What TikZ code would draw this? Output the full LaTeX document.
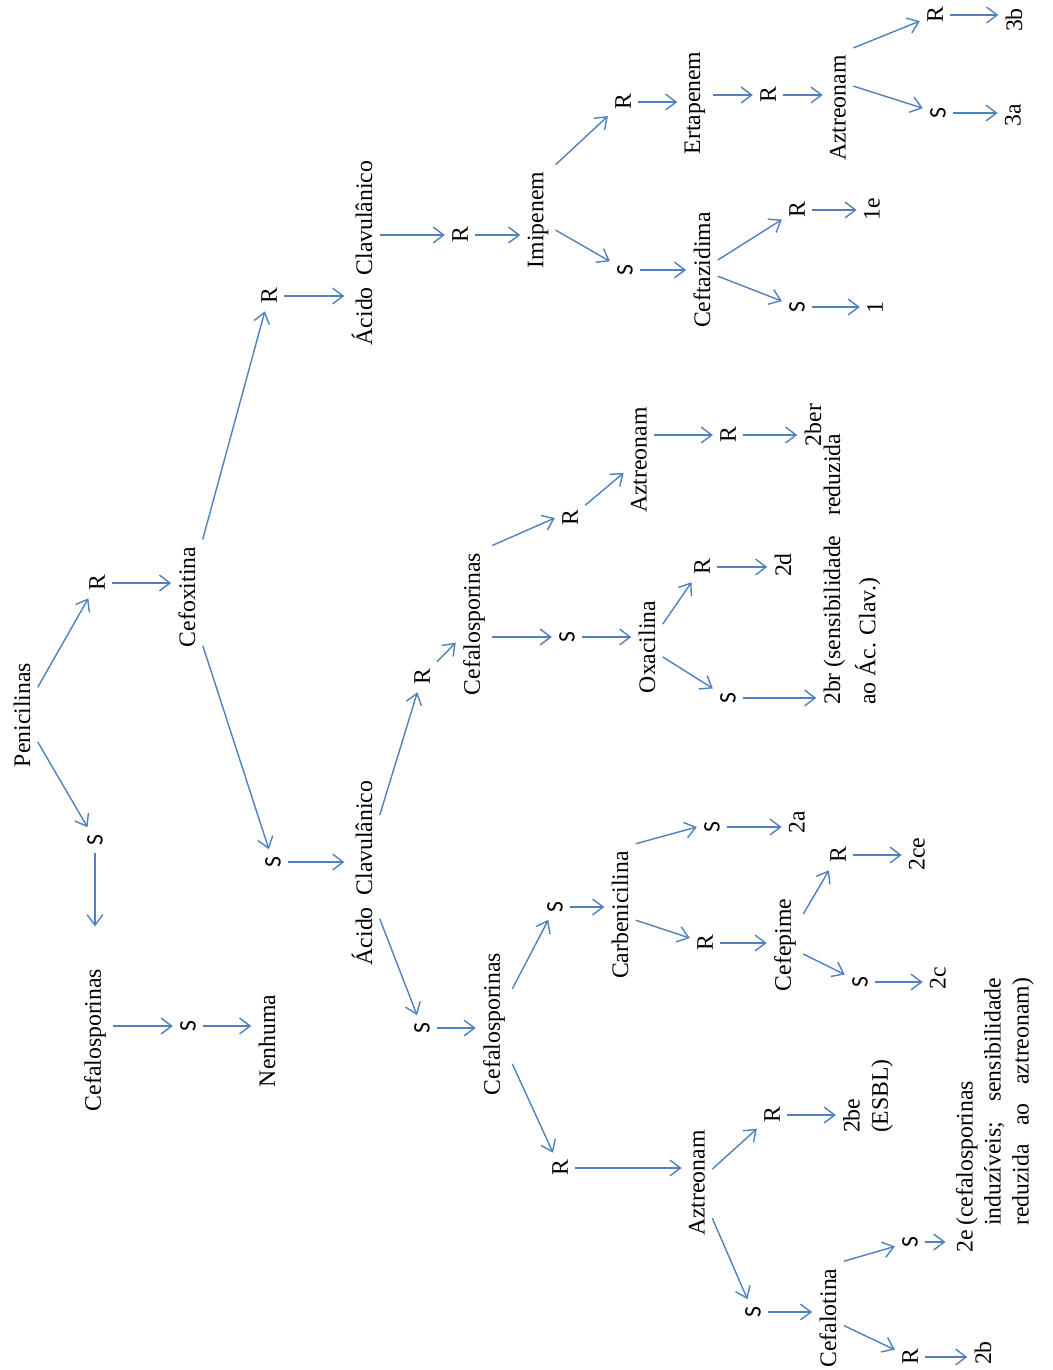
\documentclass[tikz,border=0pt]{standalone}
\usepackage{fontspec}
\setmainfont{Liberation Serif}
\newfontfamily\sfnt{Carlito}
\usetikzlibrary{arrows.meta}
\definecolor{linkblue}{RGB}{79,129,189}

\begin{document}
\begin{tikzpicture}[x=0.02cm,y=-0.02cm,
  txt/.style={rotate=90,inner sep=4pt,font=\fontsize{13.5}{16}\selectfont},
  ls/.style={txt,font=\sfnt\fontsize{13.5}{16}\selectfont},
  arr/.style={draw=linkblue,line width=0.8pt,-{Straight Barb[length=6pt,width=9pt]}}]
  \useasboundingbox (0,0) rectangle (1053,1370);

  \node[txt] (pen) at (22,715) {Penicilinas};
  \node[txt] (r1) at (97,583) {R};
  \node[ls] (s1) at (95,840) {S};
  \node[txt] (cefa) at (95,1040) {Cefalosporinas};
  \node[ls] (s2) at (188,1026) {S};
  \node[txt] (nenh) at (267,1041) {Nenhuma};
  \node[txt] (cefox) at (187,597) {Cefoxitina};
  \node[txt] (r2) at (269,296) {R};
  \node[txt] (acida) at (362,253) {Ácido\ \ Clavulânico};
  \node[ls] (s3) at (273,862) {S};
  \node[txt] (acidb) at (362,873) {Ácido\ \ Clavulânico};

  \node[txt] (r17) at (460,235) {R};
  \node[txt] (imip) at (538,220) {Imipenem};
  \node[ls] (s18) at (625,270) {S};
  \node[txt] (ceftz) at (702,270) {Ceftazidima};
  \node[txt] (r19) at (623,102) {R};
  \node[txt] (ertap) at (695,103) {Ertapenem};
  \node[txt] (r20) at (768,95) {R};
  \node[txt] (azta) at (838,108) {Aztreonam};
  \node[txt] (r21) at (935,15) {R};
  \node[txt] (a3b) at (1014,20) {3b};
  \node[ls] (s22) at (938,113) {S};
  \node[txt] (a3a) at (1013,115) {3a};
  \node[txt] (r23) at (797,210) {R};
  \node[txt] (a1e) at (872,209) {1e};
  \node[ls] (s24) at (797,307) {S};
  \node[txt] (a1) at (875,308) {1};

  \node[txt] (r3) at (422,677) {R};
  \node[txt] (cefb) at (474,624) {Cefalosporinas};
  \node[ls] (s12) at (567,637) {S};
  \node[txt] (oxa) at (647,647) {Oxacilina};
  \node[txt] (r13) at (570,518) {R};
  \node[txt] (aztb) at (639,460) {Aztreonam};
  \node[txt] (r14) at (728,435) {R};
  \node[txt] (a2ber) at (813,425) {2ber};
  \node[txt] (r15) at (702,567) {R};
  \node[txt] (a2d) at (783,565) {2d};
  \node[ls] (s16) at (728,698) {S};
  \node[txt,align=left] (a2br) at (852,566)
    {\makebox[158pt][l]{2br (sensibilidade\hspace{8pt} reduzida}\\[4pt]ao Ác. Clav.)};

  \node[ls] (s4) at (422,1028) {S};
  \node[txt] (cefc) at (494,1024) {Cefalosporinas};
  \node[ls] (s5) at (555,907) {S};
  \node[txt] (carb) at (620,915) {Carbenicilina};
  \node[txt] (r5) at (560,1168) {R};
  \node[txt] (aztc) at (697,1183) {Aztreonam};
  \node[ls] (s6) at (712,827) {S};
  \node[txt] (a2a) at (797,822) {2a};
  \node[txt] (r6) at (705,943) {R};
  \node[txt] (cefep) at (785,945) {Cefepime};
  \node[txt] (r7) at (838,855) {R};
  \node[txt] (a2ce) at (917,854) {2ce};
  \node[ls] (s8) at (860,982) {S};
  \node[txt] (a2c) at (938,978) {2c};
  \node[txt] (r9) at (772,1115) {R};
  \node[txt,align=left] (a2be) at (868,1096) {2be\\(ESBL)};
  \node[ls] (s10) at (753,1312) {S};
  \node[txt] (cefal) at (828,1318) {Cefalotina};
  \node[ls] (s11) at (910,1242) {S};
  \node[txt] (a2e) at (995,1115) {\begin{tabular}{@{}l@{\,}l@{}}
    2e & (cefalosporinas\\
       & \makebox[141pt][s]{induzíveis;\ sensibilidade}\\
       & \makebox[141pt][s]{reduzida ao aztreonam)}
    \end{tabular}};
  \node[txt] (r25) at (910,1357) {R};
  \node[txt] (a2b) at (983,1353) {2b};

  \draw[arr] (pen) -- (r1);
  \draw[arr] (pen) -- (s1);
  \draw[arr,shorten >=20pt] (s1) -- (cefa);
  \draw[arr] (s2 -| cefa.south) -- (s2);
  \draw[arr] (s2) -- (s2 -| nenh.north);
  \draw[arr] (r1) -- (r1 -| cefox.north);
  \draw[arr] (cefox) -- (r2);
  \draw[arr] (cefox) -- (s3);
  \draw[arr] (r2) -- (r2 -| acida.north);
  \draw[arr] (s3) -- (s3 -| acidb.north);

  \draw[arr] (r17 -| acida.south) -- (r17);
  \draw[arr] (r17) -- (r17 -| imip.north);
  \draw[arr] (imip.south east) -- (r19);
  \draw[arr] (imip) -- (s18);
  \draw[arr] (s18) -- (s18 -| ceftz.north);
  \draw[arr] (r19) -- (r19 -| ertap.north);
  \draw[arr] (r20 -| ertap.south) -- (r20);
  \draw[arr] (r20) -- (r20 -| azta.north);
  \draw[arr] (azta.south east) -- (r21);
  \draw[arr] (azta.-35) -- (s22);
  \draw[arr] (r21) -- (r21 -| a3b.north);
  \draw[arr] (s22) -- (s22 -| a3a.north);
  \draw[arr] (ceftz) -- (r23);
  \draw[arr] (ceftz) -- (s24);
  \draw[arr] (r23) -- (r23 -| a1e.north);
  \draw[arr] (s24) -- (s24 -| a1.north);

  \draw[arr] (acidb) -- (r3);
  \draw[arr] (acidb) -- (s4);
  \draw[arr] (r3) -- (cefb);
  \draw[arr] (s12 -| cefb.south) -- (s12);
  \draw[arr] (cefb.south east) -- (r13.north);
  \draw[arr] (r13) -- (aztb);
  \draw[arr] (s12) -- (s12 -| oxa.north);
  \draw[arr] (oxa) -- (r15);
  \draw[arr] (oxa) -- (s16);
  \draw[arr] (r15) -- (r15 -| a2d.north);
  \draw[arr] (s16) -- (s16 -| a2br.north);
  \draw[arr] (r14 -| aztb.south) -- (r14);
  \draw[arr] (r14) -- (r14 -| a2ber.north);

  \draw[arr] (s4) -- (s4 -| cefc.north);
  \draw[arr] (cefc) -- (s5);
  \draw[arr] (cefc) -- (r5);
  \draw[arr] (s5) -- (s5 -| carb.north);
  \draw[arr] (r5) -- (r5 -| aztc.north);
  \draw[arr] (carb.south east) -- (s6.north);
  \draw[arr] (carb) -- (r6);
  \draw[arr] (s6) -- (s6 -| a2a.north);
  \draw[arr] (r6) -- (r6 -| cefep.north);
  \draw[arr] (cefep) -- (r7);
  \draw[arr] (cefep) -- (s8);
  \draw[arr] (r7) -- (r7 -| a2ce.north);
  \draw[arr] (s8) -- (s8 -| a2c.north);
  \draw[arr] (aztc) -- (r9);
  \draw[arr] (aztc) -- (s10);
  \draw[arr] (r9) -- (r9 -| a2be.north);
  \draw[arr] (s10) -- (s10 -| cefal.north);
  \draw[arr] (cefal.south east) -- (s11);
  \draw[arr] (cefal) -- (r25);
  \draw[arr] (s11) -- (s11 -| a2e.north);
  \draw[arr] (r25) -- (r25 -| a2b.north);
\end{tikzpicture}
\end{document}
